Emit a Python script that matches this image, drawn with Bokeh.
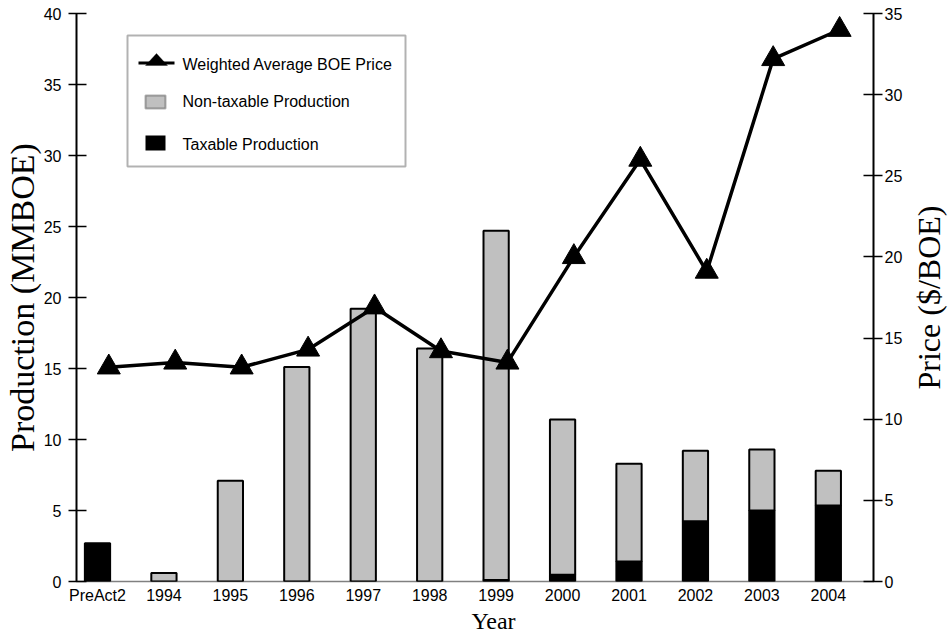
import math
from bokeh.plotting import figure
from bokeh.layouts import row, column
from bokeh.models import (ColumnDataSource, Range1d, LinearAxis, FixedTicker,
                          BoxAnnotation, PolyAnnotation, Label)
from bokeh.transform import stack, dodge
from bokeh.embed import file_html
from bokeh.resources import INLINE

# ---------------- data ----------------
categories = ["PreAct2", "1994", "1995", "1996", "1997", "1998",
              "1999", "2000", "2001", "2002", "2003", "2004"]
taxable_production = [2.7, 0.0, 0.0, 0.0, 0.0, 0.0, 0.1, 0.47, 1.4, 4.25, 5.0, 5.35]
non_taxable_production = [0.0, 0.6, 7.1, 15.1, 19.2, 16.4, 24.6, 10.93, 6.9, 4.95, 4.3, 2.45]
boe_price = [13.2, 13.5, 13.2, 14.3, 16.9, 14.2, 13.5, 20.0, 26.0, 19.1, 32.2, 34.0]
production_ticks = [0, 5, 10, 15, 20, 25, 30, 35, 40]
price_ticks = [0, 5, 10, 15, 20, 25, 30, 35]

SANS = "Liberation Sans"
SERIF = "Liberation Serif"

xs = list(range(len(categories)))
src = ColumnDataSource(dict(
    x=xs, cat=categories,
    taxable=taxable_production, nontaxable=non_taxable_production,
    price=boe_price,
    nt_alpha=[1.0 if v > 0 else 0.0 for v in non_taxable_production],
))

FW, FH = 797, 568
TOP, BOTTOM, LEFT, RIGHT = 13, 26, 76, 29
PH = TOP + FH + BOTTOM          # main plot height
p = figure(frame_width=FW, frame_height=FH,
           x_range=Range1d(-0.316, 11.68), y_range=Range1d(0, 40),
           output_backend="svg", toolbar_location=None,
           min_border_left=LEFT, min_border_right=RIGHT,
           min_border_top=TOP, min_border_bottom=BOTTOM,
           outline_line_color=None, background_fill_color="white",
           border_fill_color="white")
p.extra_y_ranges = {"price": Range1d(0, 35)}
p.grid.visible = False

# bars
p.vbar(x="x", width=0.38, bottom=0, top="taxable", source=src,
       fill_color="black", line_color="black", line_width=2)
p.vbar(x="x", width=0.38, bottom=stack("taxable"), top=stack("taxable", "nontaxable"),
       source=src, fill_color="#c0c0c0", line_color="black", line_width=2,
       line_alpha="nt_alpha")

# price line
px = dodge("x", 0.17)
p.line(x=px, y="price", source=src, y_range_name="price",
       line_color="black", line_width=3.5, line_join="round")
p.scatter(x=px, y="price", source=src, y_range_name="price", marker="triangle",
          size=23, fill_color="black", line_color="black")

# left axis
ya = p.yaxis[0]
ya.ticker = FixedTicker(ticks=production_ticks)
ya.axis_line_width = 2
ya.major_tick_in = 10
ya.major_tick_out = 8
ya.major_tick_line_width = 1.5
ya.minor_tick_line_color = None
ya.major_label_standoff = 7
ya.major_label_text_font = SANS
ya.major_label_text_font_size = "16px"
ya.major_label_text_color = "black"
ya.axis_label = "Production (MMBOE)"
ya.axis_label_text_font = SERIF
ya.axis_label_text_font_size = "34px"
ya.axis_label_text_font_style = "normal"
ya.axis_label_text_color = "black"
ya.axis_label_standoff = 0

# bottom axis
xa = p.xaxis[0]
xa.ticker = FixedTicker(ticks=xs)
xa.major_label_overrides = {i: c for i, c in zip(xs, categories)}
xa.major_tick_line_color = None
xa.major_tick_in = 0
xa.major_tick_out = 0
xa.minor_tick_line_color = None
xa.minor_tick_in = 0
xa.minor_tick_out = 0
xa.axis_line_dash = "1 1"
xa.axis_line_width = 1.5
xa.major_label_standoff = 5
xa.major_label_text_font = SANS
xa.major_label_text_font_size = "16px"
xa.major_label_text_color = "black"

# right axis
ra = LinearAxis(y_range_name="price", ticker=FixedTicker(ticks=price_ticks))
ra.axis_line_width = 2
ra.major_tick_in = 10
ra.major_tick_out = 9
ra.major_tick_line_width = 1.5
ra.minor_tick_line_color = None
ra.major_label_standoff = 2
ra.major_label_text_font = SANS
ra.major_label_text_font_size = "16px"
ra.major_label_text_color = "black"
p.add_layout(ra, "right")

# ---------------- legend (frame screen units, y up from frame bottom) ----------------
def up(page_y):
    return FH - (page_y - TOP)

def fx(page_x):
    return page_x - LEFT

def box(l, r, t, b, **kw):
    return BoxAnnotation(left=fx(l), right=fx(r), top=up(t), bottom=up(b),
                         left_units="screen", right_units="screen",
                         top_units="screen", bottom_units="screen", **kw)

p.add_layout(box(127, 405, 35, 166, fill_color="white", fill_alpha=1.0,
                 line_color="black", line_width=2))
p.add_layout(box(138, 174, 61, 64, fill_color="black", fill_alpha=1.0, line_color=None))
p.add_layout(PolyAnnotation(xs=[fx(145), fx(167), fx(156)], ys=[up(65), up(65), up(53)],
                            xs_units="screen", ys_units="screen",
                            fill_color="black", fill_alpha=1.0, line_color="black"))
p.add_layout(box(145, 165, 95, 108, fill_color="#c0c0c0", fill_alpha=1.0,
                 line_color="black", line_width=2))
p.add_layout(box(145, 165, 135, 150, fill_color="black", fill_alpha=1.0, line_color=None))
for txt, yy in [("Weighted Average BOE Price", 64),
                ("Non-taxable Production", 101),
                ("Taxable Production", 144)]:
    p.add_layout(Label(x=fx(182), y=up(yy), x_units="screen", y_units="screen",
                       text=txt, text_font=SANS, text_font_size="16px",
                       text_color="black", text_baseline="middle", text_align="left"))

# ---------------- side strips carrying the axis titles ----------------
PW = LEFT + FW + RIGHT
SW = 947 - PW


def strip(w, h):
    f = figure(width=w, height=h, x_range=Range1d(0, 1), y_range=Range1d(0, 1),
               output_backend="svg", toolbar_location=None,
               x_axis_location=None, y_axis_location=None,
               min_border=0, outline_line_color=None,
               background_fill_color="white", border_fill_color="white")
    f.grid.visible = False
    return f


# in the row the strip's frame lines up with the main frame (page y 13..581)
right_strip = strip(SW, PH)
right_strip.add_layout(Label(x=925 - PW, y=(TOP + FH) - 297, x_units="screen", y_units="screen",
                             text="Price ($/BOE)", angle=math.pi / 2,
                             text_font=SERIF, text_font_size="32px", text_color="black",
                             text_align="center", text_baseline="middle"))

YH = 633 - PH
bottom_strip = strip(947, YH)
bottom_strip.add_layout(Label(x=493, y=YH - (620 - PH), x_units="screen", y_units="screen",
                              text="Year", text_font=SERIF, text_font_size="24px",
                              text_color="black", text_align="center",
                              text_baseline="middle"))

layout = column(row(p, right_strip, spacing=0), bottom_strip, spacing=0)
open("out.html", "w").write(file_html(layout, INLINE))
